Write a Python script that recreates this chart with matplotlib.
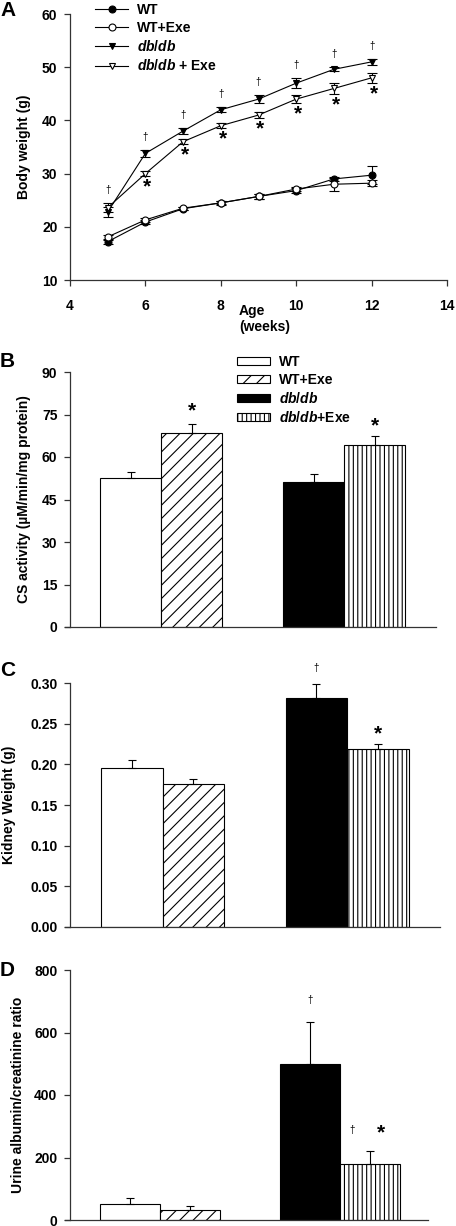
import numpy as np
import matplotlib
matplotlib.use("Agg")
import matplotlib.pyplot as plt

# render at 80 dpi so the hatch spacing comes out like the original;
# every size given in points is scaled by S to keep the pixel sizes
DPI = 80
S = 100 / DPI

plt.rcParams['font.family'] = ['Liberation Sans', 'DejaVu Sans']
plt.rcParams['font.weight'] = 'bold'
plt.rcParams['axes.labelweight'] = 'bold'
plt.rcParams['mathtext.fontset'] = 'custom'
plt.rcParams['mathtext.rm'] = 'Liberation Sans:bold'
plt.rcParams['mathtext.it'] = 'Liberation Sans:italic:bold'
plt.rcParams['mathtext.bf'] = 'Liberation Sans:bold'
plt.rcParams['hatch.linewidth'] = 0.8 * S

# ---- panel A: body weight over age
weeks = [5, 6, 7, 8, 9, 10, 11, 12]
wt = [17.2, 20.9, 23.4, 24.5, 25.7, 26.8, 29.0, 29.7]
wt_err = [0.4, 0.4, 0.3, 0.4, 0.4, 0.5, 0.4, 1.7]
wt_exe = [18.1, 21.3, 23.5, 24.5, 25.7, 27.1, 28.0, 28.2]
wt_exe_err = [0.4, 0.4, 0.3, 0.3, 0.4, 0.4, 1.2, 0.6]
db = [22.8, 33.8, 38.0, 42.0, 44.0, 47.0, 49.6, 51.0]
db_err = [0.9, 0.6, 0.5, 0.5, 0.8, 1.0, 0.4, 0.5]
db_exe = [23.6, 30.0, 36.0, 39.0, 41.0, 44.0, 46.0, 48.0]
db_exe_err = [0.9, 0.5, 0.5, 0.5, 0.6, 0.7, 1.0, 1.0]
star_weeks = [6, 7, 8, 9, 10, 11, 12]

# ---- panels B-D: bar groups
groups = ['WT', 'WT+Exe', r'$\mathit{db/db}$', r'$\mathit{db/db}$+Exe']
cs_act = [52.5, 68.5, 51.3, 64.2]
cs_err = [2.3, 3.2, 2.6, 3.2]
kidney = [0.196, 0.176, 0.282, 0.2185]
kidney_err = [0.009, 0.006, 0.017, 0.0065]
urine = [51, 32, 499, 179]
urine_err = [20, 14, 136, 41]

W, H = 456, 1226
fig = plt.figure(figsize=(W / DPI, H / DPI), dpi=DPI)

FS = 10 * S      # text size
BIG = 15 * S     # panel letters and stars
DAG = 7 * S      # daggers
LW = 0.8 * S


def px_axes(l, t, r, b):
    return fig.add_axes([l / W, 1 - b / H, (r - l) / W, (b - t) / H])


def style(ax):
    for s in ['top', 'right']:
        ax.spines[s].set_visible(False)
    for s in ['left', 'bottom']:
        ax.spines[s].set_linewidth(0.9 * S)
        ax.spines[s].set_color('#333333')
    ax.tick_params(labelsize=FS, width=0.9 * S, length=4 * S,
                   color='#333333', pad=5 * S)


def bold_ticks(ax):
    for t in ax.get_xticklabels() + ax.get_yticklabels():
        t.set_fontweight('bold')


# ---------- A
axA = px_axes(70, 14, 447, 280)
style(axA)
series = [(wt, wt_err, 'o', 'black', 'WT'),
          (wt_exe, wt_exe_err, 'o', 'white', 'WT+Exe'),
          (db, db_err, 'v', 'black', r'$\mathit{db/db}$'),
          (db_exe, db_exe_err, 'v', 'white', r'$\mathit{db/db}$ + Exe')]
handles = []
for vals, err, mk, fc, lab in series:
    axA.errorbar(weeks, vals, yerr=err, fmt='none', ecolor='black',
                 elinewidth=LW, capsize=3.5 * S, capthick=LW, zorder=2)
    h, = axA.plot(weeks, vals, color='black', lw=LW, marker=mk, ms=5 * S,
                  mfc=fc, mec='black', mew=LW, label=lab, zorder=3)
    handles.append(h)
axA.set_xlim(4, 14)
axA.set_ylim(10, 60)
axA.set_xticks(range(4, 15, 2))
axA.set_yticks(range(10, 61, 10))
axA.tick_params(axis='x', pad=10 * S)
bold_ticks(axA)
axA.set_ylabel('Body weight (g)', fontsize=FS, labelpad=8 * S)
axA.legend(handles=handles, loc='upper left', frameon=False, fontsize=FS,
           bbox_to_anchor=(95 / W, 1 - 3 / H), bbox_transform=fig.transFigure,
           borderpad=0, borderaxespad=0, handlelength=2.4, handletextpad=0.6,
           labelspacing=0.3)
for i, w in enumerate(weeks):
    top = max(db[i] + db_err[i], db_exe[i] + db_exe_err[i])
    axA.text(w, top + 2.5, '†', fontsize=DAG, fontweight='normal',
             ha='center', va='center')
for w in star_weeks:
    i = weeks.index(w)
    axA.text(w + 0.05, db_exe[i] - db_exe_err[i] - 2.0, '*', fontsize=BIG,
             ha='center', va='center')
fig.text(239 / W, 1 - 319 / H, 'Age\n(weeks)', fontsize=FS, ha='left',
         va='center', linespacing=1.1)
fig.text(0, 1 - 11 / H, 'A', fontsize=BIG, ha='left', va='center')


# ---------- bar panels
pos = [1, 2, 4, 5]
fills = ['white', 'white', 'black', 'white']
hatches = [None, '//', None, '|||']


def bar_panel(box, vals, err, xlim, ylim, yticks, fmt, ylabel, lpad):
    ax = px_axes(*box)
    style(ax)
    ax.spines['left'].set_position(('axes', 5 / (box[2] - box[0])))
    bars = ax.bar(pos, vals, width=1, color=fills, edgecolor='black',
                  linewidth=LW, zorder=2)
    for b, h in zip(bars, hatches):
        if h:
            b.set_hatch(h)
    ax.errorbar(pos, vals, yerr=[np.zeros(len(vals)), err], fmt='none',
                ecolor='black', elinewidth=LW, capsize=3 * S, capthick=LW,
                zorder=3)
    ax.set_xlim(*xlim)
    ax.set_ylim(*ylim)
    ax.set_xticks([])
    ax.set_yticks(yticks)
    ax.set_yticklabels([fmt.format(t) for t in yticks], fontweight='bold')
    ax.set_ylabel(ylabel, fontsize=FS, labelpad=lpad * S)
    return ax, bars


# B
axB, barsB = bar_panel((65, 372, 436, 627), cs_act, cs_err, (-0.074, 6.008),
                       (0, 90), list(range(0, 91, 15)), '{:d}',
                       'CS activity (µM/min/mg protein)', 8)
axB.legend(barsB, groups, loc='upper left', frameon=False, fontsize=FS,
           bbox_to_anchor=(237 / W, 1 - 355 / H), bbox_transform=fig.transFigure,
           borderpad=0, borderaxespad=0, handlelength=2.4, handleheight=0.5,
           handletextpad=0.6, labelspacing=0.28)
axB.text(pos[1], 76.3, '*', fontsize=BIG, ha='center', va='center')
axB.text(pos[3], 71.0, '*', fontsize=BIG, ha='center', va='center')
fig.text(0, 1 - 361 / H, 'B', fontsize=BIG, ha='left', va='center')

# C
axC, _ = bar_panel((65, 683, 440, 927), kidney, kidney_err, (-0.085, 6.01),
                   (0, 0.30), [0, 0.05, 0.10, 0.15, 0.20, 0.25, 0.30],
                   '{:.2f}', 'Kidney Weight (g)', 10)
axC.text(pos[2], 0.318, '†', fontsize=DAG, fontweight='normal',
         ha='center', va='center')
axC.text(pos[3], 0.238, '*', fontsize=BIG, ha='center', va='center')
fig.text(0, 1 - 670 / H, 'C', fontsize=BIG, ha='left', va='center')

# D
axD, _ = bar_panel((65, 970, 428, 1220), urine, urine_err, (-0.083, 5.967),
                   (0, 800), [0, 200, 400, 600, 800], '{:d}',
                   'Urine albumin/creatinine ratio', 7)
axD.text(pos[2], 704, '†', fontsize=DAG, fontweight='normal',
         ha='center', va='center')
axD.text(pos[3] - 0.3, 288, '†', fontsize=DAG, fontweight='normal',
         ha='center', va='center')
axD.text(pos[3] + 0.18, 280, '*', fontsize=BIG, ha='center', va='center')
fig.text(0, 1 - 971 / H, 'D', fontsize=BIG, ha='left', va='center')

fig.savefig('out.png', dpi=DPI, facecolor='white')
